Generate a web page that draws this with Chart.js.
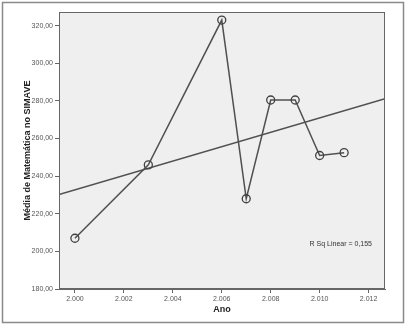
<!DOCTYPE html>
<html lang="pt">
<head>
<meta charset="UTF-8">
<script src="https://cdn.jsdelivr.net/npm/chart.js@4.4.1/dist/chart.umd.min.js"></script>
<title>Média de Matemática no SIMAVE</title>
<style>
  html, body { margin: 0; padding: 0; background: #fff; }
  #wrap { width: 406px; height: 325px; }
</style>
</head>
<body>
<div id="wrap"><canvas id="myChart" width="406" height="325"></canvas></div>
<script>
// values
var years = [2000, 2003, 2006, 2007, 2008, 2009, 2010, 2011];
var scores = [207, 246, 323, 228, 280.5, 280.5, 251, 252.5];
var xTicks = [2000, 2002, 2004, 2006, 2008, 2010, 2012];
var yTicks = [180, 200, 220, 240, 260, 280, 300, 320];
var xMin = 1999.35, xMax = 2012.67;
var yMin = 180, yMax = 327.3;
var rsqLabel = 'R Sq Linear = 0,155';

// least squares fit, as the original "linear" fit line
var n = years.length;
var mx = years.reduce((a, b) => a + b, 0) / n;
var my = scores.reduce((a, b) => a + b, 0) / n;
var sxy = 0, sxx = 0;
for (var i = 0; i < n; i++) {
  sxy += (years[i] - mx) * (scores[i] - my);
  sxx += (years[i] - mx) * (years[i] - mx);
}
var slope = sxy / sxx;
var fit = [xMin, xMax].map(x => ({ x: x, y: my + slope * (x - mx) }));

var frame = {
  id: 'frame',
  beforeDraw(chart) {
    var c = chart.ctx, a = chart.chartArea;
    c.save();
    c.strokeStyle = '#8a8a8a';
    c.lineWidth = 1.5;
    c.strokeRect(2.5, 2.5, 401, 320);
    c.fillStyle = '#efeff0';
    c.fillRect(a.left, a.top, a.right - a.left, a.bottom - a.top);
    c.restore();
  },
  afterDraw(chart) {
    var c = chart.ctx, a = chart.chartArea;
    c.save();
    c.strokeStyle = '#666';
    c.lineWidth = 1;
    c.strokeRect(a.left + 0.5, a.top + 0.5, a.right - a.left - 1, a.bottom - a.top - 1);
    c.fillStyle = '#333';
    c.font = '7px "Liberation Sans", Arial, sans-serif';
    c.textAlign = 'right';
    c.textBaseline = 'middle';
    c.fillText(rsqLabel, a.right - 13, 244);
    c.restore();
  }
};

var ctx = document.getElementById('myChart').getContext('2d');
var myChart = new Chart(ctx, {
  type: 'scatter',
  data: {
    datasets: [{
      label: 'Média',
      data: years.map((x, i) => ({ x: x, y: scores[i] })),
      showLine: true,
      borderColor: '#505050',
      borderWidth: 1.5,
      pointRadius: 4,
      pointBorderWidth: 1.3,
      pointBackgroundColor: 'rgba(0,0,0,0)',
      pointBorderColor: '#404040'
    }, {
      label: 'Fit',
      data: fit,
      showLine: true,
      borderColor: '#505050',
      borderWidth: 1.5,
      pointRadius: 0
    }]
  },
  plugins: [frame],
  options: {
    responsive: false,
    animation: false,
    layout: { padding: { left: 0, top: 12, right: 21, bottom: 0 } },
    plugins: { legend: { display: false }, tooltip: { enabled: false } },
    scales: {
      x: {
        type: 'linear',
        min: xMin, max: xMax,
        afterBuildTicks: s => { s.ticks = xTicks.map(v => ({ value: v })); },
        afterFit: s => { s.height = 36; },
        grid: { drawOnChartArea: false, drawTicks: true, tickLength: 4, color: '#666' },
        border: { display: true, color: '#666' },
        ticks: {
          color: '#555', padding: 2, maxRotation: 0,
          font: { size: 7, family: '"Liberation Sans", Arial, sans-serif' },
          callback: v => String(v).replace(/\B(?=(\d{3})+(?!\d))/g, '.')
        },
        title: {
          display: true, text: 'Ano', color: '#222',
          font: { size: 9, weight: 'bold', family: '"Liberation Sans", Arial, sans-serif' },
          padding: { top: 0, bottom: 10 }
        }
      },
      y: {
        min: yMin, max: yMax,
        afterBuildTicks: s => { s.ticks = yTicks.map(v => ({ value: v })); },
        afterFit: s => { s.width = 59; },
        grid: { drawOnChartArea: false, drawTicks: true, tickLength: 4, color: '#666' },
        border: { display: true, color: '#666' },
        ticks: {
          color: '#555', padding: 2,
          font: { size: 7, family: '"Liberation Sans", Arial, sans-serif' },
          callback: v => v.toFixed(2).replace('.', ',')
        },
        title: {
          display: true, text: 'Média de Matemática no SIMAVE', color: '#222',
          font: { size: 9, weight: 'bold', family: '"Liberation Sans", Arial, sans-serif' },
          padding: { top: 22, bottom: 0 }
        }
      }
    }
  }
});
</script>
</body>
</html>
